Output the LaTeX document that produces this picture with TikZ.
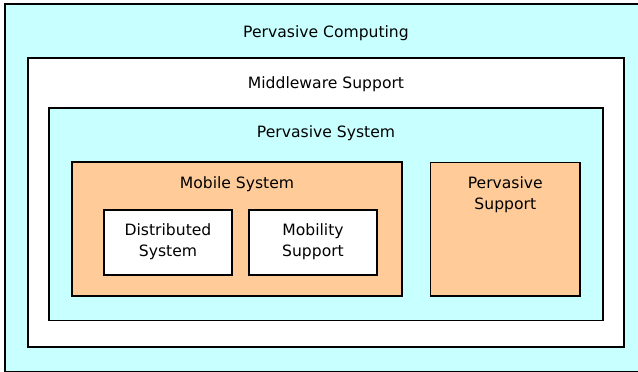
\documentclass[tikz,border=0pt]{standalone}
\usepackage{fontspec}
\setmainfont{DejaVu Sans}
\definecolor{cyanfill}{HTML}{C8FFFF}
\definecolor{orangefill}{HTML}{FFCC99}
\begin{document}
\begin{tikzpicture}[x=1pt,y=-1pt,
  box/.style={draw=black, line width=1.7pt, inner sep=0pt, outer sep=0pt},
  lbl/.style={font=\fontsize{15.6}{20.6}\selectfont, align=center, inner sep=0pt, anchor=base}]
\useasboundingbox (0,0) rectangle (638,372);
\clip (0,0) rectangle (638,372);
\fill[white] (0,0) rectangle (638,372);
\draw[box, fill=cyanfill] (5,4) rectangle (660,371.5);
\node[lbl] (pc) at (326,37.7) {Pervasive Computing};
\draw[box, fill=white] (28,58.3) rectangle (624,347);
\node[lbl] (ms) at (326,88.3) {Middleware Support};
\draw[box, fill=cyanfill] (49,108.3) rectangle (603.3,320.5);
\node[lbl] (ps) at (326,137.3) {Pervasive System};
\draw[box, fill=orangefill] (72,162.3) rectangle (402,296);
\node[lbl] (mob) at (237,188.3) {Mobile System};
\draw[box, fill=white] (104,210.3) rectangle (232,275);
\node[lbl] (ds) at (168,256.3) {Distributed\\System};
\draw[box, fill=white] (249.3,210.3) rectangle (376.7,275);
\node[lbl] (mbs) at (313,256.3) {Mobility\\Support};
\draw[box, fill=orangefill] (430.5,162.5) rectangle (580,296);
\node[lbl] (psu) at (505.3,209) {Pervasive\\Support};
\end{tikzpicture}
\end{document}
